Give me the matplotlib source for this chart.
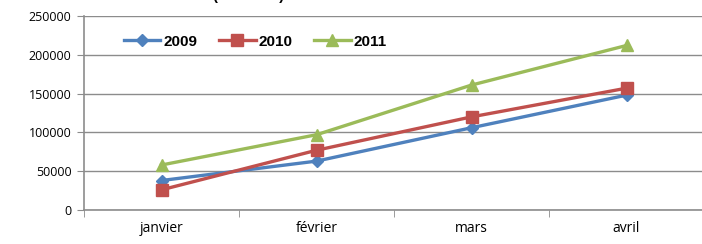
import matplotlib
matplotlib.use("Agg")
import matplotlib.pyplot as plt
from matplotlib.ticker import FixedLocator, MultipleLocator

months = ["janvier", "février", "mars", "avril"]
years = ["2009", "2010", "2011"]
v2009 = [38000, 63000, 106000, 148000]
v2010 = [26000, 77000, 120000, 157000]
v2011 = [58000, 97000, 161000, 212000]

colors = ["#4F81BD", "#C0504D", "#9BBB59"]
markers = ["D", "s", "^"]
msizes = [6, 9, 9]

fig = plt.figure(figsize=(7.02, 2.44), dpi=100)
ax = fig.add_axes([84 / 702, 1 - 210 / 244, 620 / 702, 194 / 244])

x = list(range(len(months)))
for vals, lab, c, m, ms in zip([v2009, v2010, v2011], years, colors, markers, msizes):
    ax.plot(x, vals, color=c, lw=2.4, marker=m, ms=ms, label=lab, clip_on=False, zorder=3)

ax.set_xlim(-0.5, len(months) - 0.5)
ax.set_ylim(0, 250000)
ax.yaxis.set_major_locator(MultipleLocator(50000))
ax.grid(axis="y", color="#8c8c8c", lw=1)
ax.set_axisbelow(True)

ax.set_xticks(x)
ax.set_xticklabels(months, fontfamily="Open Sans", fontsize=10)
ax.xaxis.set_minor_locator(FixedLocator([i - 0.5 for i in range(len(months) + 1)]))
ax.tick_params(axis="x", which="major", length=0, pad=8)
ax.tick_params(axis="x", which="minor", length=5, color="#8c8c8c", direction="out")
ax.tick_params(axis="y", length=5, color="#8c8c8c", direction="out", pad=4)
for t in ax.get_yticklabels():
    t.set_fontfamily("Open Sans")
    t.set_fontsize(9)

for s in ["top", "right"]:
    ax.spines[s].set_visible(False)
for s in ["left", "bottom"]:
    ax.spines[s].set_color("#8c8c8c")
    ax.spines[s].set_linewidth(1.2)

leg = ax.legend(loc="upper left", bbox_to_anchor=(0.042, 0.975), ncol=3, frameon=False,
                prop={"family": "Liberation Sans", "weight": "bold", "size": 11},
                handlelength=2.4, handletextpad=0.2, columnspacing=1.4)

# title is cut by the top edge in the reference: only the bottom of the brackets shows
fig.text(249 / 702, 1.0, "(en euros)", ha="center", va="baseline",
         fontfamily="Liberation Sans", fontweight="bold", fontsize=10.5)

fig.savefig("out.png", dpi=100)
